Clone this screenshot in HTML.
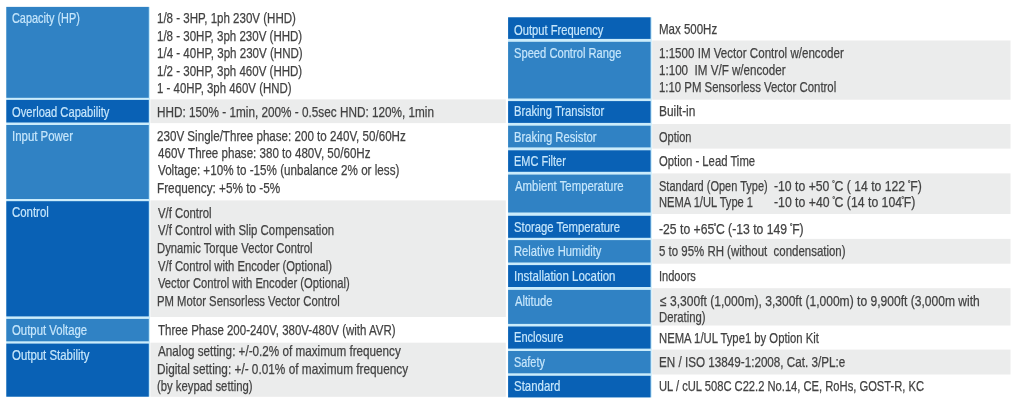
<!DOCTYPE html>
<html lang="en">
<head>
<meta charset="utf-8">
<title>Specifications</title>
<style>
html,body{margin:0;padding:0;background:#fff;}
body{width:1024px;height:406px;position:relative;overflow:hidden;font-family:"Liberation Sans",Arial,Helvetica,sans-serif;font-size:14.5px;line-height:1;}
svg.bg{position:absolute;left:0;top:0;display:block;}
.t{position:absolute;white-space:nowrap;transform-origin:0 0;color:#424242;display:block;line-height:1;-webkit-text-stroke:0.25px #424242;}
.t.w{color:#c6e6fb;-webkit-text-stroke:0.2px #c6e6fb;}
.dg{font-size:10px;vertical-align:2.2px;margin:0 -0.8px 0 -0.6px;}
</style>
</head>
<body>
<svg class="bg" width="1024" height="406" viewBox="0 0 1024 406">
<rect x="6.30" y="6.90" width="143.70" height="389.80" fill="#cbecfb"/>
<rect x="150.40" y="99.40" width="355.40" height="23.70" fill="#ebecec"/>
<rect x="150.40" y="200.40" width="355.40" height="116.60" fill="#ebecec"/>
<rect x="150.40" y="342.70" width="355.40" height="54.10" fill="#ebecec"/>
<rect x="6.30" y="6.90" width="142.50" height="90.90" fill="#3082c4"/>
<rect x="6.30" y="99.90" width="142.50" height="22.60" fill="#0961b5"/>
<rect x="6.30" y="125.00" width="142.50" height="74.00" fill="#3082c4"/>
<rect x="6.30" y="201.20" width="142.50" height="115.20" fill="#0961b5"/>
<rect x="6.30" y="318.90" width="142.50" height="22.40" fill="#3082c4"/>
<rect x="6.30" y="343.60" width="142.50" height="53.10" fill="#0961b5"/>
<rect x="508.10" y="17.30" width="143.70" height="380.10" fill="#cbecfb"/>
<rect x="652.20" y="40.50" width="358.30" height="59.20" fill="#ebecec"/>
<rect x="652.20" y="124.00" width="358.30" height="24.60" fill="#ebecec"/>
<rect x="652.20" y="173.40" width="358.30" height="40.60" fill="#ebecec"/>
<rect x="652.20" y="238.90" width="358.30" height="24.80" fill="#ebecec"/>
<rect x="652.20" y="288.20" width="358.30" height="37.30" fill="#ebecec"/>
<rect x="652.20" y="349.60" width="358.30" height="24.90" fill="#ebecec"/>
<rect x="508.10" y="17.30" width="142.50" height="21.60" fill="#0961b5"/>
<rect x="508.10" y="41.80" width="142.50" height="56.70" fill="#3082c4"/>
<rect x="508.10" y="101.10" width="142.50" height="21.80" fill="#0961b5"/>
<rect x="508.10" y="125.70" width="142.50" height="21.70" fill="#3082c4"/>
<rect x="508.10" y="150.30" width="142.50" height="21.50" fill="#0961b5"/>
<rect x="508.10" y="174.60" width="142.50" height="37.90" fill="#3082c4"/>
<rect x="508.10" y="215.80" width="142.50" height="22.00" fill="#0961b5"/>
<rect x="508.10" y="240.10" width="142.50" height="22.40" fill="#3082c4"/>
<rect x="508.10" y="265.10" width="142.50" height="21.90" fill="#0961b5"/>
<rect x="508.10" y="289.90" width="142.50" height="34.00" fill="#3082c4"/>
<rect x="508.10" y="326.50" width="142.50" height="22.10" fill="#0961b5"/>
<rect x="508.10" y="351.00" width="142.50" height="22.30" fill="#3082c4"/>
<rect x="508.10" y="375.80" width="142.50" height="21.60" fill="#0961b5"/>
</svg>
<span class="t w" style="left:12.30px;top:11px;transform:scaleX(0.7515)">Capacity (HP)</span>
<span class="t w" style="left:12.33px;top:105px;transform:scaleX(0.7694)">Overload Capability</span>
<span class="t w" style="left:11.98px;top:129px;transform:scaleX(0.7886)">Input Power</span>
<span class="t w" style="left:12.27px;top:205px;transform:scaleX(0.7876)">Control</span>
<span class="t w" style="left:12.33px;top:323px;transform:scaleX(0.7834)">Output Voltage</span>
<span class="t w" style="left:12.32px;top:348px;transform:scaleX(0.7875)">Output Stability</span>
<span class="t w" style="left:514.13px;top:23px;transform:scaleX(0.7704)">Output Frequency</span>
<span class="t w" style="left:513.97px;top:46px;transform:scaleX(0.7700)">Speed Control Range</span>
<span class="t w" style="left:513.83px;top:104px;transform:scaleX(0.7724)">Braking Transistor</span>
<span class="t w" style="left:513.82px;top:130px;transform:scaleX(0.7762)">Braking Resistor</span>
<span class="t w" style="left:513.84px;top:154px;transform:scaleX(0.7569)">EMC Filter</span>
<span class="t w" style="left:514.60px;top:179px;transform:scaleX(0.7845)">Ambient Temperature</span>
<span class="t w" style="left:513.96px;top:220px;transform:scaleX(0.7807)">Storage Temperature</span>
<span class="t w" style="left:513.83px;top:244px;transform:scaleX(0.7747)">Relative Humidity</span>
<span class="t w" style="left:513.78px;top:269px;transform:scaleX(0.7919)">Installation Location</span>
<span class="t w" style="left:514.60px;top:294px;transform:scaleX(0.7741)">Altitude</span>
<span class="t w" style="left:513.83px;top:330px;transform:scaleX(0.7651)">Enclosure</span>
<span class="t w" style="left:513.99px;top:355px;transform:scaleX(0.7516)">Safety</span>
<span class="t w" style="left:513.96px;top:379px;transform:scaleX(0.7887)">Standard</span>
<span class="t" style="left:156.90px;top:11px;transform:scaleX(0.7957)">1/8 - 3HP, 1ph 230V (HHD)</span>
<span class="t" style="left:156.91px;top:29px;transform:scaleX(0.7948)">1/8 - 30HP, 3ph 230V (HHD)</span>
<span class="t" style="left:156.90px;top:46px;transform:scaleX(0.7976)">1/4 - 40HP, 3ph 230V (HND)</span>
<span class="t" style="left:156.91px;top:64px;transform:scaleX(0.7948)">1/2 - 30HP, 3ph 460V (HHD)</span>
<span class="t" style="left:156.91px;top:81px;transform:scaleX(0.7885)">1 - 40HP, 3ph 460V (HND)</span>
<span class="t" style="left:156.89px;top:105px;transform:scaleX(0.8106)">HHD: 150% - 1min, 200% - 0.5sec HND: 120%, 1min</span>
<span class="t" style="left:157.21px;top:129px;transform:scaleX(0.8009)">230V Single/Three phase: 200 to 240V, 50/60Hz</span>
<span class="t" style="left:157.69px;top:146px;transform:scaleX(0.7988)">460V Three phase: 380 to 480V, 50/60Hz</span>
<span class="t" style="left:157.70px;top:163px;transform:scaleX(0.8038)">Voltage: +10% to -15% (unbalance 2% or less)</span>
<span class="t" style="left:156.89px;top:181px;transform:scaleX(0.8112)">Frequency: +5% to -5%</span>
<span class="t" style="left:157.70px;top:206px;transform:scaleX(0.7825)">V/f Control</span>
<span class="t" style="left:157.70px;top:223px;transform:scaleX(0.7859)">V/f Control with Slip Compensation</span>
<span class="t" style="left:156.92px;top:241px;transform:scaleX(0.7764)">Dynamic Torque Vector Control</span>
<span class="t" style="left:157.70px;top:259px;transform:scaleX(0.7765)">V/f Control with Encoder (Optional)</span>
<span class="t" style="left:157.70px;top:276px;transform:scaleX(0.7746)">Vector Control with Encoder (Optional)</span>
<span class="t" style="left:156.92px;top:294px;transform:scaleX(0.7790)">PM Motor Sensorless Vector Control</span>
<span class="t" style="left:157.69px;top:323px;transform:scaleX(0.7924)">Three Phase 200-240V, 380V-480V (with AVR)</span>
<span class="t" style="left:157.70px;top:344px;transform:scaleX(0.8066)">Analog setting: +/-0.2% of maximum frequency</span>
<span class="t" style="left:156.89px;top:362px;transform:scaleX(0.8147)">Digital setting: +/- 0.01% of maximum frequency</span>
<span class="t" style="left:156.92px;top:379px;transform:scaleX(0.7798)">(by keypad setting)</span>
<span class="t" style="left:658.81px;top:22px;transform:scaleX(0.7927)">Max 500Hz</span>
<span class="t" style="left:658.80px;top:46px;transform:scaleX(0.7991)">1:1500 IM Vector Control w/encoder</span>
<span class="t" style="left:658.80px;top:63px;transform:scaleX(0.8013)">1:100  IM V/F w/encoder</span>
<span class="t" style="left:658.81px;top:80px;transform:scaleX(0.7853)">1:10 PM Sensorless Vector Control</span>
<span class="t" style="left:658.78px;top:104px;transform:scaleX(0.8200)">Built-in</span>
<span class="t" style="left:659.14px;top:130px;transform:scaleX(0.7586)">Option</span>
<span class="t" style="left:659.13px;top:154px;transform:scaleX(0.7791)">Option - Lead Time</span>
<span class="t" style="left:658.98px;top:179px;transform:scaleX(0.7591)">Standard (Open Type)</span>
<span class="t" style="left:774.10px;top:179px;transform:scaleX(0.8433)">-10 to +50 <span class="dg">˚</span>C ( 14 to 122 <span class="dg">˚</span>F)</span>
<span class="t" style="left:658.83px;top:195px;transform:scaleX(0.7678)">NEMA 1/UL Type 1</span>
<span class="t" style="left:774.10px;top:195px;transform:scaleX(0.8454)">-10 to +40 <span class="dg">˚</span>C (14 to 104<span class="dg">˚</span>F)</span>
<span class="t" style="left:659.20px;top:222px;transform:scaleX(0.8412)">-25 to +65<span class="dg">˚</span>C (-13 to 149 <span class="dg">˚</span>F)</span>
<span class="t" style="left:659.02px;top:244px;transform:scaleX(0.7899)">5 to 95% RH (without  condensation)</span>
<span class="t" style="left:658.81px;top:269px;transform:scaleX(0.7626)">Indoors</span>
<span class="t" style="left:659.60px;top:294px;transform:scaleX(0.8319)">≤ 3,300ft (1,000m), 3,300ft (1,000m) to 9,900ft (3,000m with</span>
<span class="t" style="left:658.82px;top:310px;transform:scaleX(0.7803)">Derating)</span>
<span class="t" style="left:658.82px;top:331px;transform:scaleX(0.7780)">NEMA 1/UL Type1 by Option Kit</span>
<span class="t" style="left:658.79px;top:355px;transform:scaleX(0.8051)">EN / ISO 13849-1:2008, Cat. 3/PL:e</span>
<span class="t" style="left:658.83px;top:379px;transform:scaleX(0.7708)">UL / cUL 508C C22.2 No.14, CE, RoHs, GOST-R, KC</span>
</body>
</html>
